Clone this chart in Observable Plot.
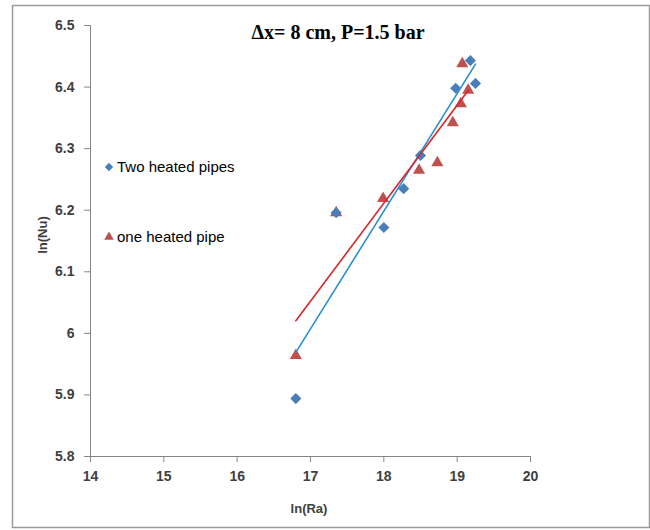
<!DOCTYPE html>
<html><head><meta charset="utf-8">
<script src="https://cdn.jsdelivr.net/npm/d3@7"></script>
<script src="https://cdn.jsdelivr.net/npm/@observablehq/plot@0.6"></script>
<style>
body{margin:0;background:#fff;}
#chart{width:650px;height:530px;}
#chart svg text{font-weight:bold;}
</style>
</head><body><div id="chart"></div>
<script>
// ---- data ----
const seriesNames = ["Two heated pipes", "one heated pipe"];
const lnRaTwo = [16.80, 17.35, 18.00, 18.27, 18.50, 18.98, 19.18, 19.25];
const lnNuTwo = [5.894, 6.196, 6.172, 6.235, 6.289, 6.398, 6.443, 6.406];
const lnRaOne = [16.80, 17.35, 17.99, 18.48, 18.73, 18.94, 19.05, 19.07, 19.15];
const lnNuOne = [5.964, 6.196, 6.219, 6.265, 6.277, 6.342, 6.373, 6.438, 6.395];
const xTicks = [14, 15, 16, 17, 18, 19, 20];
const yTicks = [5.8, 5.9, 6.0, 6.1, 6.2, 6.3, 6.4, 6.5];
const titleText = "Δx= 8 cm, P=1.5 bar";
const xLabel = "ln(Ra)";
const yLabel = "ln(Nu)";

const two = lnRaTwo.map((x, i) => ({x, y: lnNuTwo[i], s: seriesNames[0]}));
const one = lnRaOne.map((x, i) => ({x, y: lnNuOne[i], s: seriesNames[1]}));

const blue = "#4A7EBB", red = "#C0504D";

const plot = Plot.plot({
  width: 650, height: 530,
  marginLeft: 90, marginRight: 120, marginTop: 25, marginBottom: 74,
  style: {fontFamily: "'Liberation Sans', Arial, sans-serif", fontSize: "14px", background: "white", color: "#868686"},
  x: {domain: [14, 20], ticks: xTicks, tickSize: 6, tickPadding: 9, label: null, tickFormat: d => String(d)},
  y: {domain: [5.8, 6.5], ticks: yTicks, tickSize: 6, tickPadding: 10, label: null, tickFormat: d => String(+d.toFixed(1))},
  marks: [
    Plot.ruleX([14], {stroke: "#868686"}),
    Plot.ruleY([5.8], {stroke: "#868686"}),
    Plot.dot(one, {x: "x", y: "y", symbol: d3.symbolTriangle2, r: 5.8, fill: red, stroke: "none"}),
    Plot.dot(two, {x: "x", y: "y", symbol: d3.symbolDiamond2, r: 5, fill: blue, stroke: "none"}),
    Plot.linearRegressionY(two, {x: "x", y: "y", stroke: "#2A8FD0", strokeWidth: 1.6, ci: 0}),
    Plot.linearRegressionY(one, {x: "x", y: "y", stroke: "#D8262A", strokeWidth: 1.6, ci: 0})
  ]
});

const svg = d3.select(plot);
svg.selectAll("text").attr("fill", "#404040");

// outer chart border
svg.insert("rect", ":first-child")
  .attr("x", 12.5).attr("y", 5.5).attr("width", 637).attr("height", 522)
  .attr("fill", "white").attr("stroke", "#9a9a9a").attr("stroke-width", 1.5);

// title
svg.append("text").text(titleText)
  .attr("x", 338).attr("y", 39).attr("text-anchor", "middle")
  .style("font-family", "'Liberation Serif', 'Times New Roman', serif")
  .style("font-size", "20px").style("font-weight", "bold").attr("fill", "#000");

// axis titles
svg.append("text").text(xLabel)
  .attr("x", 309).attr("y", 513).attr("text-anchor", "middle")
  .style("font-size", "13px").attr("fill", "#404040");
svg.append("text").text(yLabel)
  .attr("transform", "translate(47,235) rotate(-90)").attr("text-anchor", "middle")
  .style("font-size", "13px").attr("fill", "#404040");

// legend
const legend = [
  {name: seriesNames[0], sym: d3.symbolDiamond2, size: 45, color: blue, y: 167},
  {name: seriesNames[1], sym: d3.symbolTriangle2, size: 65, color: red, y: 237}
];
legend.forEach(l => {
  svg.append("path").attr("d", d3.symbol(l.sym, l.size)())
    .attr("transform", `translate(109,${l.y})`).attr("fill", l.color);
  svg.append("text").text(l.name).attr("x", 117).attr("y", l.y + 5)
    .attr("text-anchor", "start")
    .style("font-size", "15px").style("font-weight", "normal").attr("fill", "#000");
});

document.getElementById("chart").append(plot);
</script>
</body></html>
